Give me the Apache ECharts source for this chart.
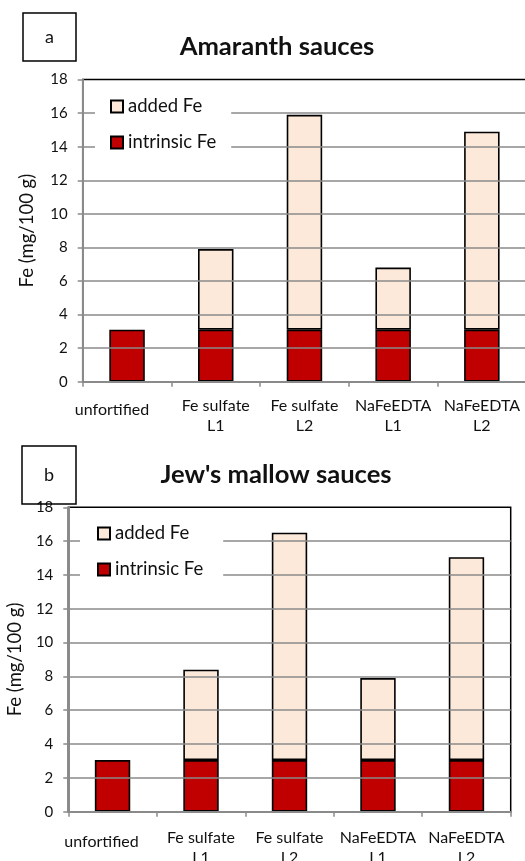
<!DOCTYPE html>
<html>
<head>
<meta charset="utf-8">
<title>Fe content of fortified sauces</title>
<script src="https://cdn.jsdelivr.net/npm/echarts@6/dist/echarts.min.js"></script>
<style>
  html, body { margin: 0; padding: 0; background: #ffffff; }
  #chart { width: 525px; height: 861px; }
</style>
</head>
<body>
<div id="chart"></div>
<script>
// Sauce formulations (shared by both panels)
const categories = ['unfortified', 'Fe sulfate\nL1', 'Fe sulfate\nL2', 'NaFeEDTA\nL1', 'NaFeEDTA\nL2'];

// Panel a: Amaranth sauces, Fe in mg/100 g
const amaranthIntrinsic = [3.1, 3.1, 3.1, 3.1, 3.1];
const amaranthAdded = [null, 4.8, 12.8, 3.7, 11.8];

// Panel b: Jew's mallow sauces, Fe in mg/100 g
const mallowIntrinsic = [3.05, 3.05, 3.05, 3.05, 3.05];
const mallowAdded = [null, 5.35, 13.45, 4.85, 12.0];

// Value axis range shared by both panels
const yMin = 0;
const yMax = 18;
const yStep = 2;

const FONT = 'Lato, "Liberation Sans", Arial, sans-serif';
const GRID_GRAY = '#8a8a8a';
const INTRINSIC_RED = '#C00000';
const ADDED_PEACH = '#FDE9D9';

function valueAxis(gridIndex, nameGap) {
  return {
    type: 'value',
    gridIndex: gridIndex,
    min: yMin,
    max: yMax,
    interval: yStep,
    z: 3,
    name: 'Fe (mg/100 g)',
    nameLocation: 'middle',
    nameGap: nameGap,
    nameTextStyle: { fontFamily: FONT, fontSize: 18.5, color: '#111' },
    axisLine: { show: true, lineStyle: { color: GRID_GRAY, width: 2 } },
    axisTick: { show: true, length: 5, lineStyle: { color: GRID_GRAY, width: 1.5 } },
    axisLabel: { margin: 15, fontFamily: FONT, fontSize: 15, color: '#111' },
    splitLine: {
      show: true,
      showMinLine: false,
      showMaxLine: false,
      lineStyle: { color: GRID_GRAY, width: 1.5 }
    }
  };
}

// The lone single-line label sits a little lower and left of its slot
function categoryAxis(gridIndex, margin, shiftLeft) {
  return {
    type: 'category',
    gridIndex: gridIndex,
    data: categories,
    z: 3,
    axisLine: { show: true, lineStyle: { color: GRID_GRAY, width: 2 } },
    axisTick: { show: true, length: 5, lineStyle: { color: GRID_GRAY, width: 1.5 } },
    axisLabel: {
      interval: 0,
      margin: margin,
      fontFamily: FONT,
      fontSize: 16,
      lineHeight: 20,
      color: '#111',
      formatter: function (v) {
        return v.indexOf('\n') < 0 ? '{one|' + v + '}' : v;
      },
      rich: {
        one: {
          fontFamily: FONT,
          fontSize: 16,
          lineHeight: 29,
          color: '#111',
          padding: [0, shiftLeft * 2, 0, 0]
        }
      }
    }
  };
}

function stackedSeries(prefix, axisIndex, intrinsic, added) {
  const border = { borderColor: '#000', borderWidth: 1.6 };
  return [
    {
      name: 'intrinsic Fe',
      type: 'bar',
      stack: prefix,
      xAxisIndex: axisIndex,
      yAxisIndex: axisIndex,
      barWidth: '40%',
      itemStyle: Object.assign({ color: INTRINSIC_RED }, border),
      data: intrinsic
    },
    {
      name: 'added Fe',
      type: 'bar',
      stack: prefix,
      xAxisIndex: axisIndex,
      yAxisIndex: axisIndex,
      barWidth: '40%',
      itemStyle: Object.assign({ color: ADDED_PEACH }, border),
      data: added
    }
  ];
}

function legendBlock(left, top, padding) {
  return {
    orient: 'vertical',
    left: left,
    top: top,
    padding: padding,
    itemGap: 17,
    itemWidth: 12,
    itemHeight: 12,
    icon: 'rect',
    backgroundColor: '#ffffff',
    selectedMode: false,
    data: ['added Fe', 'intrinsic Fe'],
    textStyle: { fontFamily: FONT, fontSize: 18.5, color: '#111' }
  };
}

function panelLetter(text, left, top, padV) {
  return {
    text: text,
    left: left,
    top: top,
    padding: [padV, 22, padV, 22],
    borderColor: '#000',
    borderWidth: 1.5,
    textStyle: { fontFamily: FONT, fontSize: 18, fontWeight: 'normal', color: '#111' }
  };
}

const chart = echarts.init(document.getElementById('chart'), null, { renderer: 'canvas' });

chart.setOption({
  backgroundColor: '#ffffff',
  animation: false,
  title: [
    panelLetter('a', 23, 13, 15),
    {
      text: 'Amaranth sauces',
      left: 272,
      top: 29,
      textAlign: 'center',
      textStyle: { fontFamily: FONT, fontSize: 25.6, fontWeight: 'bold', color: '#111' }
    },
    panelLetter('b', 22, 446, 20),
    {
      text: "Jew's mallow sauces",
      left: 271,
      top: 457,
      textAlign: 'center',
      textStyle: { fontFamily: FONT, fontSize: 25.6, fontWeight: 'bold', color: '#111' }
    }
  ],
  legend: [
    legendBlock(95, 87, [10, 15, 10, 15]),
    legendBlock(80, 514, [10, 20, 10, 17])
  ],
  grid: [
    {
      left: 82.7, top: 79.6, right: -1.2, bottom: 479.3,
      outerBoundsMode: 'none',
      show: true, borderColor: '#000', borderWidth: 1.5
    },
    {
      left: 68.3, top: 507.3, right: 14.3, bottom: 49.3,
      outerBoundsMode: 'none',
      show: true, borderColor: '#000', borderWidth: 1.5
    }
  ],
  xAxis: [categoryAxis(0, 14, 15), categoryAxis(1, 16, 11)],
  yAxis: [valueAxis(0, 46), valueAxis(1, 40)],
  series: [].concat(
    stackedSeries('amaranth', 0, amaranthIntrinsic, amaranthAdded),
    stackedSeries('mallow', 1, mallowIntrinsic, mallowAdded)
  )
});
</script>
</body>
</html>
